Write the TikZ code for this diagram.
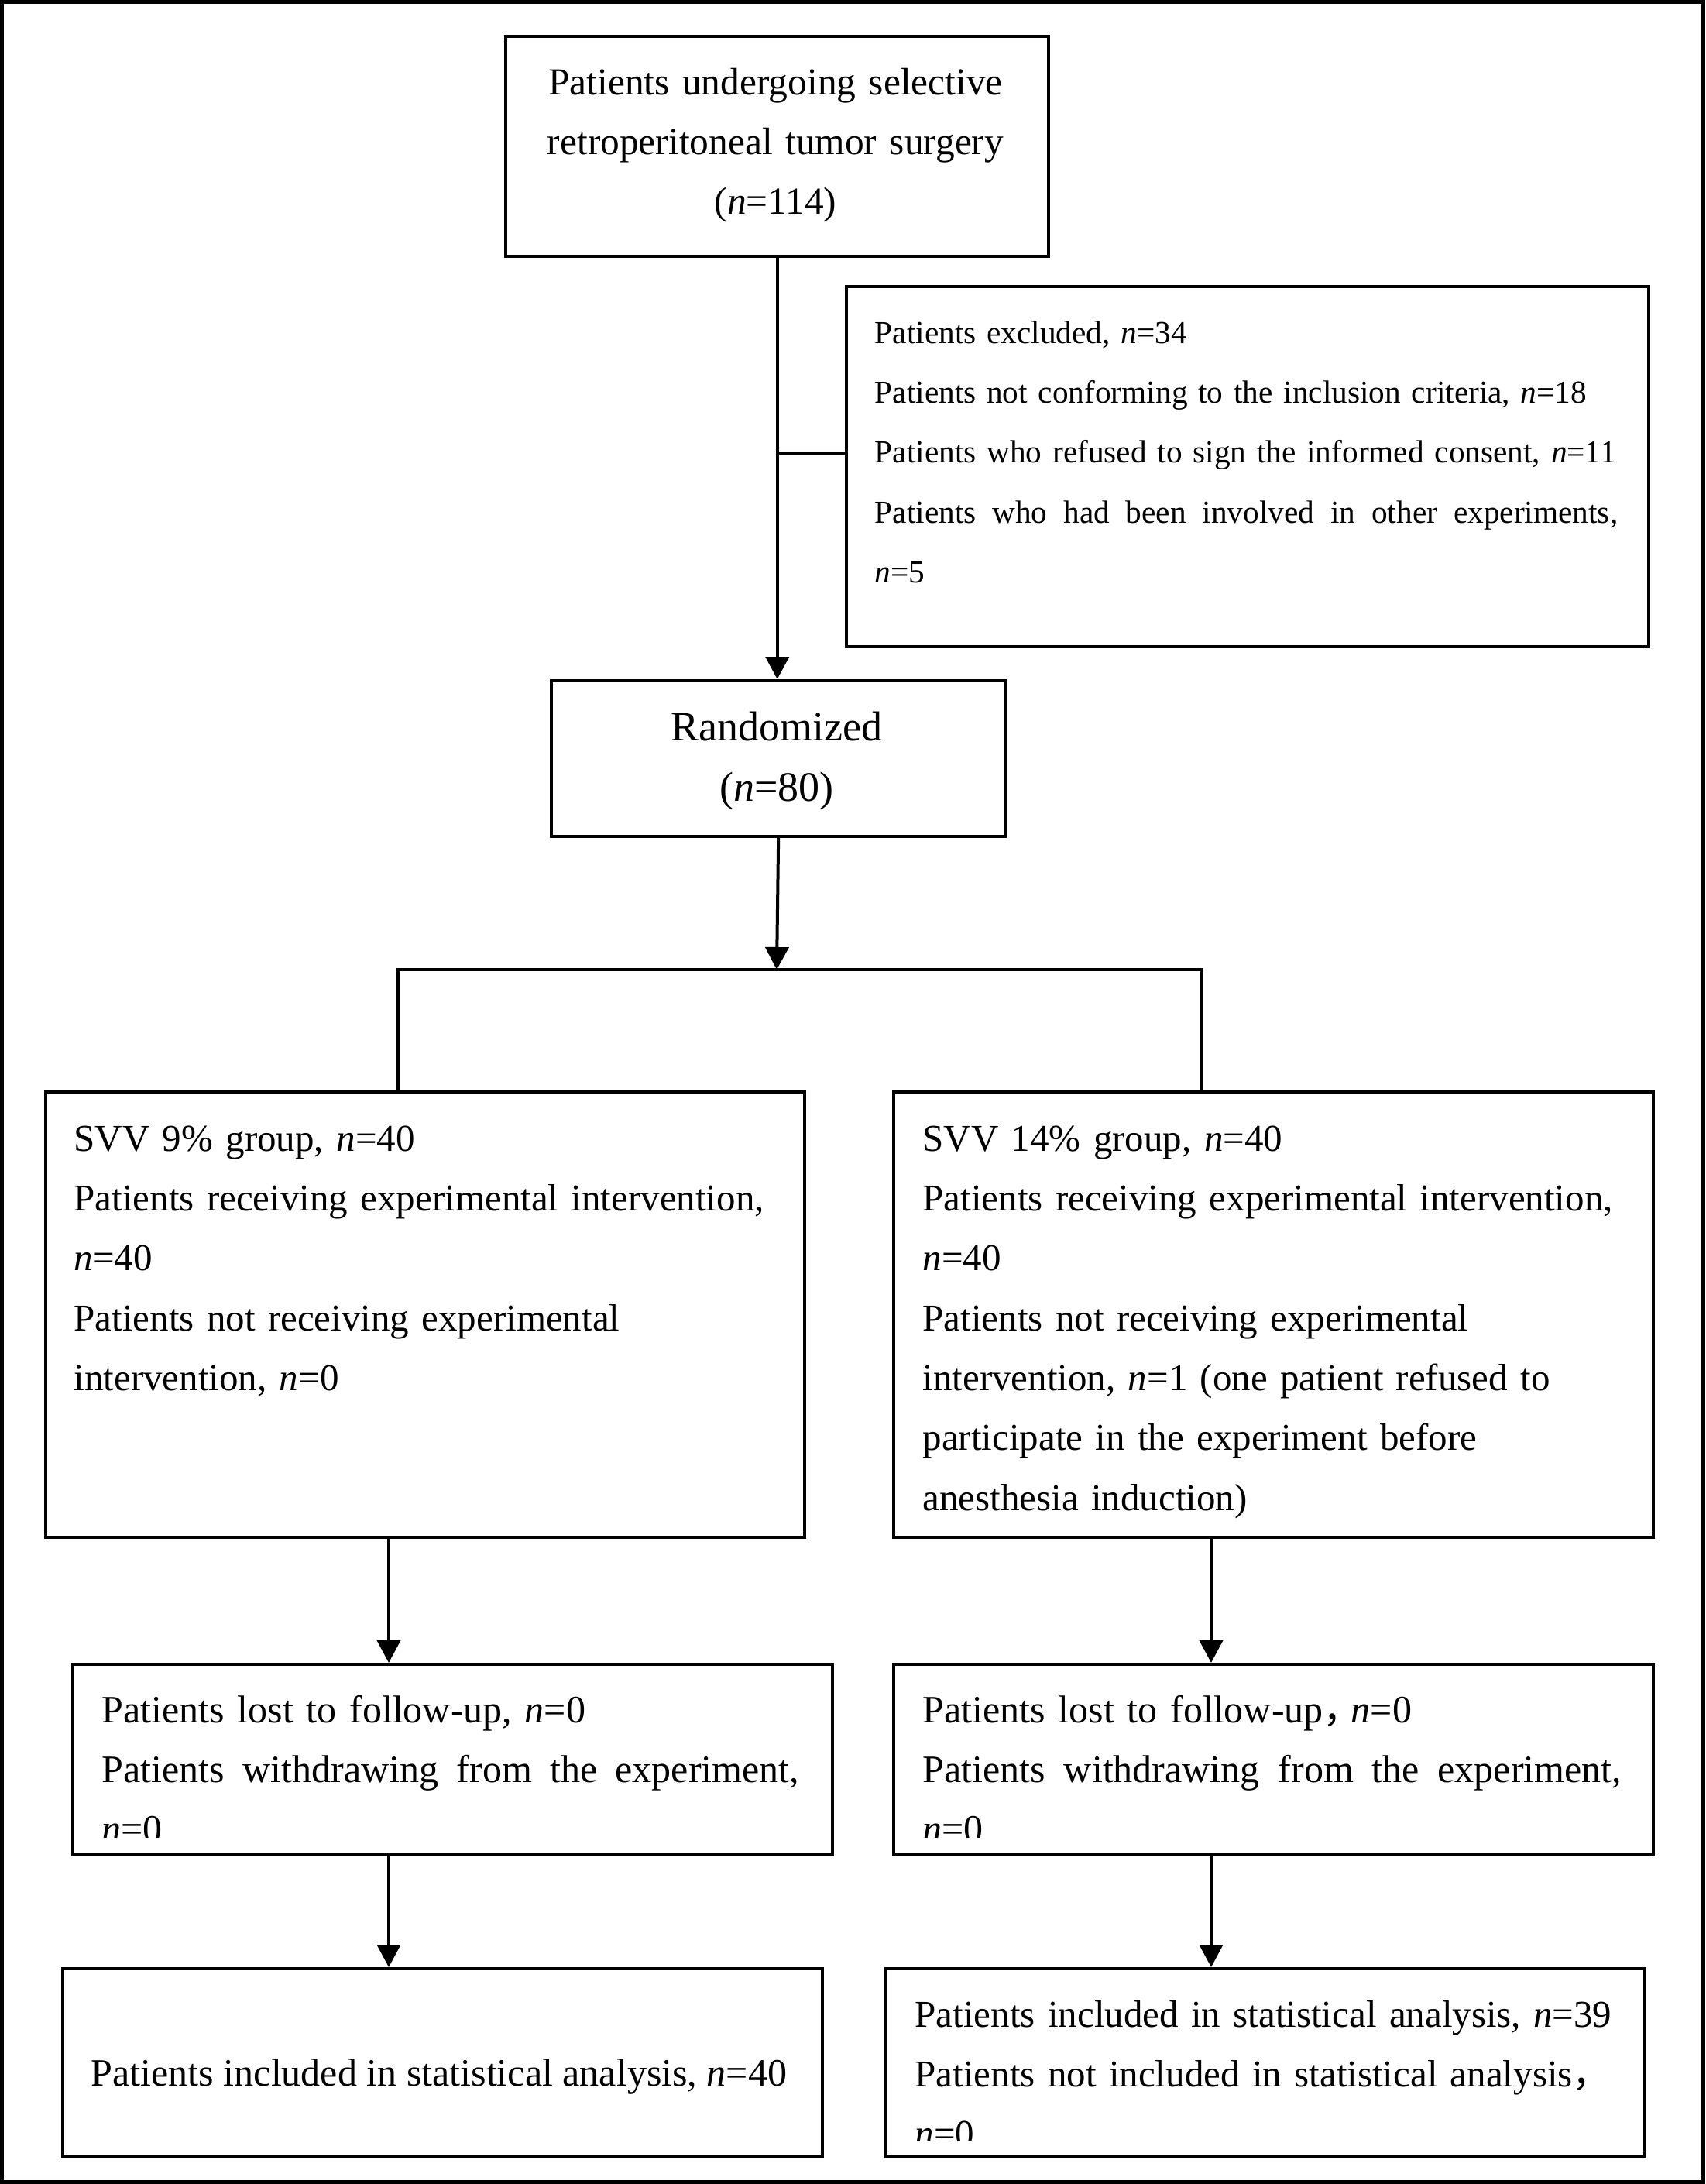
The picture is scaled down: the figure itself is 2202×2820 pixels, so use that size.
\documentclass[tikz,border=0pt]{standalone}
\usepackage{fontspec}
\setmainfont{Liberation Serif}
\newfontfamily\cjk{Noto Sans CJK SC}
\usetikzlibrary{arrows.meta}
\begin{document}
\begin{tikzpicture}[x=0.01cm,y=-0.01cm,
  box/.style={draw, line width=0.04cm, inner sep=0pt, anchor=north west},
  conn/.style={line width=0.04cm},
  arr/.style={conn, -{Triangle[length=0.29cm,width=0.30cm]}},
  txt/.style={inner sep=0pt, font=\fontsize{14.23pt}{22.0pt}\selectfont},
  stxt/.style={font=\fontsize{13.93pt}{22.0pt}\selectfont},
  ltxt/.style={txt, anchor=base west, align=left, text width=10.2cm},
  ctxt/.style={txt, anchor=base, align=center, text width=7cm},
]
\useasboundingbox (0,0) rectangle (2202,2820);
\draw[line width=0.05cm] (2.5,2.5) rectangle (2199.5,2817.5);

% boxes
\node[box, minimum width=7.01cm, minimum height=2.84cm] (b1) at (651,45) {};
\node[box, minimum width=10.35cm, minimum height=4.65cm] (excl) at (1091,368) {};
\node[box, minimum width=5.86cm, minimum height=2.01cm] (rand) at (710,877) {};
\node[box, minimum width=9.79cm, minimum height=5.75cm] (svv9) at (57,1408) {};
\node[box, minimum width=9.80cm, minimum height=5.75cm] (svv14) at (1152,1408) {};
\node[box, minimum width=9.80cm, minimum height=2.46cm] (lost9) at (92,2147) {};
\node[box, minimum width=9.80cm, minimum height=2.46cm] (lost14) at (1152,2147) {};
\node[box, minimum width=9.80cm, minimum height=2.43cm] (final9) at (79,2540) {};
\node[box, minimum width=9.79cm, minimum height=2.43cm] (final14) at (1142,2540) {};

% texts
\node[ctxt, font=\fontsize{14.05pt}{22.0pt}\selectfont] (t1) at (1001.5,122) {Patients undergoing selective\\retroperitoneal tumor surgery\\(\textit{n}=114)};

\node[ltxt, font=\fontsize{11.75pt}{22.0pt}\selectfont] (texcl) at (1129,443)
  {Patients excluded, \textit{n}=34\\
   Patients not conforming to the inclusion criteria, \textit{n}=18\\
   Patients who refused to sign the informed consent, \textit{n}=11\\
   \makebox[9.59cm][s]{Patients\hfill{} who\hfill{} had\hfill{} been\hfill{} involved\hfill{} in\hfill{} other\hfill{} experiments,}\\
   \textit{n}=5};

\node[ctxt, font=\fontsize{15.36pt}{22.2pt}\selectfont] (trand) at (1003,956) {Randomized\\(\textit{n}=80)};

\node[ltxt, stxt] (tsvv9) at (95,1486)
  {SVV 9\% group, \textit{n}=40\\
   Patients receiving experimental intervention,\\
   \textit{n}=40\\
   Patients not receiving experimental\\
   intervention, \textit{n}=0};

\node[ltxt, stxt] (tsvv14) at (1191,1486)
  {SVV 14\% group, \textit{n}=40\\
   Patients receiving experimental intervention,\\
   \textit{n}=40\\
   Patients not receiving experimental\\
   intervention, \textit{n}=1 (one patient refused to\\
   participate in the experiment before\\
   anesthesia induction)};

\begin{scope}
\clip (lost9.north west) rectangle (1072,2372);
\node[ltxt] (tlost9) at (131,2224)
  {Patients lost to follow-up, \textit{n}=0\\
   \makebox[9.00cm][s]{Patients\hfill{} withdrawing\hfill{} from\hfill{} the\hfill{} experiment,}\\
   \textit{n}=0};
\end{scope}

\begin{scope}
\clip (lost14.north west) rectangle (2132,2372);
\node[ltxt] (tlost14) at (1191,2224)
  {Patients lost to follow-up{\cjk ，}\hspace{-0.14cm}\textit{n}=0\\
   \makebox[9.02cm][s]{Patients\hfill{} withdrawing\hfill{} from\hfill{} the\hfill{} experiment,}\\
   \textit{n}=0};
\end{scope}

\node[txt, anchor=base] (tfinal9) at (567,2693) {Patients included in statistical analysis, \textit{n}=40};

\begin{scope}
\clip (final14.north west) rectangle (2121,2763);
\node[ltxt, stxt] (tfinal14) at (1181,2617)
  {Patients included in statistical analysis, \textit{n}=39\\
   Patients not included in statistical analysis{\cjk ，}\\
   \textit{n}=0};
\end{scope}

% connectors
\draw[arr] (b1.south) -- (b1.south |- rand.north);
\coordinate (exj) at (1001.5,585);
\draw[conn] (exj) -- (exj -| excl.west);

\coordinate (brM) at (1003,1252);
\coordinate (brL) at (514,1252);
\coordinate (brR) at (1552,1252);
\draw[arr] (rand.south) -- (brM);
\draw[conn] (svv9.north -| brL) -- (brL) -- (brR) -- (svv14.north -| brR);

\coordinate (cL) at (502,0);
\coordinate (cR) at (1564,0);
\draw[arr] (svv9.south -| cL) -- (lost9.north -| cL);
\draw[arr] (lost9.south -| cL) -- (final9.north -| cL);
\draw[arr] (svv14.south -| cR) -- (lost14.north -| cR);
\draw[arr] (lost14.south -| cR) -- (final14.north -| cR);
\end{tikzpicture}
\end{document}
